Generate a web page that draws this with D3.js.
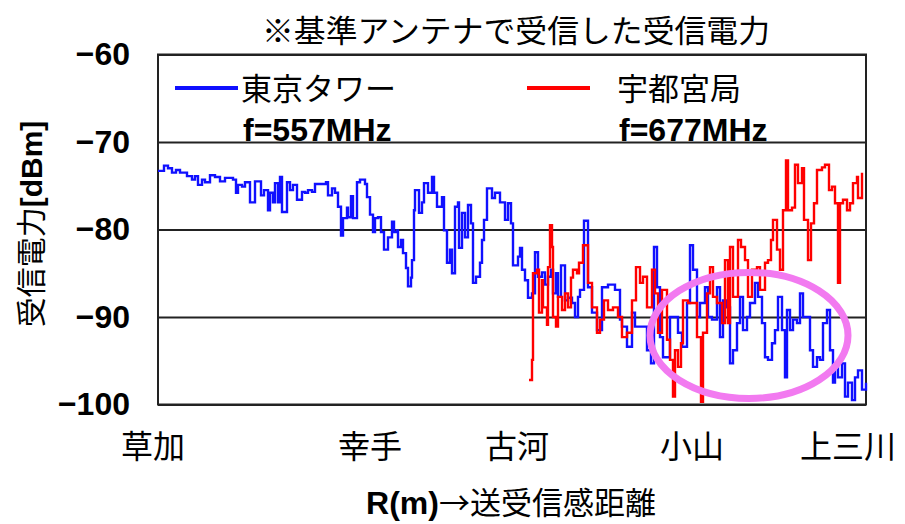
<!DOCTYPE html>
<html>
<head>
<meta charset="utf-8">
<script src="https://cdn.jsdelivr.net/npm/d3@7"></script>
<style>
  html, body { margin: 0; padding: 0; background: #fff; }
  svg { display: block; }
</style>
</head>
<body>
<svg id="chart" width="905" height="524"></svg>
<script>
// Received power measured with the reference antenna along the route.
// Each pair: [R (distance index along the route), received power in dBm]
const tokyoTower = [
  [0,-73.3],[6,-72.7],[10,-73.0],[14,-73.5],[18,-73.2],[22,-73.5],[29,-73.9],[34,-74.3],[37,-73.9],[40,-74.9],
  [44,-74.3],[47,-74.6],[52,-73.8],[57,-74.0],[62,-74.5],[67,-74.1],[75,-74.3],[78,-75.8],[80,-74.9],[84,-75.1],
  [87,-74.6],[92,-76.9],[95,-76.9],[97,-74.5],[100,-74.5],[103,-76.1],[106,-75.5],[110,-77.8],[112,-75.8],[115,-76.9],
  [117,-74.7],[120,-76.9],[122,-74.0],[124,-78.0],[129,-74.6],[132,-75.5],[135,-74.9],[139,-76.6],[144,-75.7],[147,-75.8],
  [150,-75.5],[154,-75.7],[157,-74.8],[165,-74.8],[168,-74.6],[170,-76.1],[174,-75.3],[177,-75.8],[180,-77.4],[183,-80.7],
  [185,-78.7],[189,-77.5],[190,-78.6],[193,-76.2],[195,-78.7],[199,-74.6],[202,-74.3],[207,-74.8],[209,-76.3],[212,-78.3],
  [215,-80.3],[217,-78.7],[220,-78.6],[223,-80.3],[226,-82.3],[230,-80.9],[234,-79.1],[236,-80.3],[239,-80.1],[240,-82.0],
  [243,-81.2],[245,-82.7],[248,-84.4],[250,-86.5],[253,-85.5],[254,-83.5],[256,-77.8],[257,-75.5],[261,-78.1],[264,-76.9],
  [266,-74.7],[270,-75.8],[274,-74.0],[276,-75.8],[279,-77.4],[284,-76.3],[286,-80.1],[289,-83.8],[292,-82.3],[294,-85.0],
  [297,-77.4],[300,-76.9],[301,-82.1],[304,-78.1],[307,-80.9],[310,-77.2],[313,-79.3],[315,-86.1],[318,-85.4],[322,-83.8],
  [324,-81.2],[326,-78.9],[329,-75.3],[332,-75.3],[334,-76.4],[337,-75.8],[342,-76.9],[347,-78.9],[350,-77.0],[353,-79.3],
  [355,-84.1],[360,-83.1],[362,-82.1],[364,-84.6],[367,-85.8],[370,-87.8],[374,-87.3],[377,-82.6],[380,-85.4],[384,-84.9],
  [387,-86.3],[390,-85.4],[393,-84.6],[395,-87.3],[398,-85.0],[400,-87.7],[403,-84.1],[407,-88.1],[410,-87.8],[414,-88.4],
  [417,-90.0],[420,-87.7],[422,-86.9],[426,-79.0],[430,-86.6],[434,-89.5],[439,-91.5],[444,-86.6],[450,-86.3],[457,-86.9],
  [462,-90.3],[464,-91.1],[469,-93.4],[474,-89.5],[477,-91.1],[484,-91.1],[489,-93.8],[493,-95.3],[496,-82.0],[499,-86.6],
  [502,-92.3],[505,-94.6],[512,-90.0],[517,-90.0],[520,-91.8],[524,-93.4],[529,-88.4],[532,-81.8],[535,-84.6],[539,-90.0],
  [542,-88.4],[547,-86.6],[550,-90.0],[554,-90.3],[559,-86.6],[562,-92.3],[565,-88.1],[569,-88.9],[572,-95.3],[575,-93.8],
  [579,-90.7],[582,-87.7],[585,-91.5],[589,-90.0],[592,-88.4],[597,-86.1],[600,-87.7],[604,-90.7],[607,-94.6],[610,-94.9],
  [614,-93.0],[617,-91.5],[620,-87.7],[624,-91.5],[627,-96.9],[629,-89.2],[632,-91.5],[635,-90.3],[639,-90.7],[642,-87.3],
  [645,-90.0],[649,-90.0],[652,-93.8],[655,-95.7],[659,-94.6],[662,-94.9],[665,-90.7],[669,-89.2],[672,-93.8],[675,-97.5],
  [677,-95.3],[680,-96.9],[684,-95.3],[687,-99.1],[690,-97.5],[694,-99.5],[697,-96.9],[700,-96.1],[704,-98.3],[708,-97.5]
];

const utsunomiya = [
  [371,-97.2],[374,-94.9],[375,-85.0],[379,-84.6],[381,-89.5],[384,-85.8],[385,-88.9],[389,-90.9],[390,-84.3],[392,-79.5],
  [394,-82.0],[395,-90.0],[398,-91.1],[400,-87.7],[404,-89.2],[407,-87.3],[410,-88.9],[413,-85.5],[415,-84.6],[419,-85.0],
  [421,-83.8],[425,-81.8],[430,-86.1],[434,-88.9],[439,-91.8],[442,-90.3],[446,-88.1],[450,-89.2],[455,-88.9],[460,-90.0],
  [464,-92.3],[469,-91.8],[474,-88.1],[478,-84.3],[482,-86.1],[485,-85.4],[489,-88.9],[494,-84.6],[497,-87.3],[500,-91.8],
  [504,-86.9],[509,-92.6],[512,-94.9],[515,-99.1],[517,-93.8],[520,-95.7],[523,-93.0],[525,-88.1],[530,-88.4],[535,-88.4],
  [539,-92.3],[543,-99.7],[545,-91.8],[549,-87.3],[552,-84.3],[555,-87.7],[559,-88.4],[564,-90.7],[567,-83.5],[570,-90.7],
  [572,-82.0],[575,-87.7],[580,-81.2],[583,-82.0],[587,-83.5],[590,-87.7],[594,-84.6],[599,-84.3],[602,-86.9],[607,-83.8],
  [610,-83.5],[613,-81.2],[615,-78.9],[619,-82.3],[622,-84.6],[625,-77.8],[628,-72.1],[630,-77.8],[634,-77.5],[637,-72.6],
  [640,-74.7],[644,-73.0],[646,-78.9],[650,-83.5],[653,-79.3],[656,-77.0],[659,-73.2],[664,-72.9],[667,-72.6],[671,-75.5],
  [674,-75.1],[677,-77.0],[680,-86.1],[682,-77.0],[685,-76.6],[689,-77.8],[692,-77.0],[695,-74.7],[699,-74.0],[700,-76.4],
  [704,-73.5]
];

// Place names shown under the axis and where they sit along R
const stationNames = ["草加", "幸手", "古河", "小山", "上三川"];
const stationR = [-5, 212, 359, 534, 690];

// Power axis ticks (dBm)
const powerTicks = [-60, -70, -80, -90, -100];

// Region of interest circled on the chart: R range and power range
const focusR = [492, 690];
const focusPower = [-84.9, -99.3];

// Legend entries
const legendNames = ["東京タワー", "宇都宮局"];
const legendFreqs = ["f=557MHz", "f=677MHz"];
const seriesColors = ["#1010ff", "#ff0000"];

const svg = d3.select("#chart");
const plot = { left: 158, right: 866, top: 54.5, bottom: 404.5 };

const x = d3.scaleLinear().domain([0, 708]).range([plot.left, plot.right]);
const y = d3.scaleLinear().domain([-100, -60]).range([plot.bottom, plot.top]);

const latin = "'Liberation Sans', Arial, sans-serif";
const cjk = "'Noto Sans CJK JP', 'Noto Sans', sans-serif";

// Title
svg.append("text")
  .attr("x", 516).attr("y", 42)
  .attr("text-anchor", "middle")
  .attr("font-family", cjk).attr("font-size", 31)
  .attr("textLength", 508).attr("lengthAdjust", "spacingAndGlyphs")
  .attr("fill", "#000")
  .text("※基準アンテナで受信した受信電力");

// Y axis with full-width grid lines
const yAxis = svg.append("g")
  .attr("transform", `translate(${plot.left},0)`)
  .call(d3.axisLeft(y)
    .tickValues(powerTicks)
    .tickSize(-(plot.right - plot.left))
    .tickPadding(28)
    .tickFormat(d3.format("d")));
yAxis.select(".domain").remove();
yAxis.selectAll(".tick line").attr("stroke", "#222").attr("stroke-width", 2);
yAxis.selectAll(".tick text")
  .attr("font-family", latin).attr("font-weight", "bold")
  .attr("font-size", 32).attr("fill", "#000");

// Plot frame
svg.append("rect")
  .attr("x", plot.left).attr("y", plot.top)
  .attr("width", plot.right - plot.left).attr("height", plot.bottom - plot.top)
  .attr("fill", "none").attr("stroke", "#222").attr("stroke-width", 2);

// Series lines
const line = d3.line()
  .x(d => x(d[0]))
  .y(d => y(d[1]))
  .curve(d3.curveStepAfter);

[tokyoTower, utsunomiya].forEach((series, i) => {
  svg.append("path")
    .datum(series)
    .attr("d", line)
    .attr("fill", "none")
    .attr("stroke", seriesColors[i])
    .attr("stroke-width", 2.4)
    .attr("stroke-linejoin", "miter");
});

// Highlight ellipse around the weak-signal stretch
svg.append("ellipse")
  .attr("cx", x((focusR[0] + focusR[1]) / 2))
  .attr("cy", y((focusPower[0] + focusPower[1]) / 2))
  .attr("rx", (x(focusR[1]) - x(focusR[0])) / 2)
  .attr("ry", (y(focusPower[1]) - y(focusPower[0])) / 2)
  .attr("fill", "none")
  .attr("stroke", "#f27af0")
  .attr("stroke-width", 7);

// Legend
const legendX = [175, 527];
const legendTextX = [241, 617];
legendNames.forEach((name, i) => {
  svg.append("line")
    .attr("x1", legendX[i]).attr("x2", legendX[i] + 63)
    .attr("y1", 88).attr("y2", 88)
    .attr("stroke", seriesColors[i]).attr("stroke-width", 4);
  svg.append("text")
    .attr("x", legendTextX[i]).attr("y", 100)
    .attr("font-family", cjk).attr("font-size", 31)
    .attr("fill", "#000")
    .text(name);
  svg.append("text")
    .attr("x", legendTextX[i] + 2).attr("y", 141)
    .attr("font-family", latin).attr("font-weight", "bold")
    .attr("font-size", 32).attr("fill", "#000")
    .text(legendFreqs[i]);
});

// Station labels under the plot
svg.append("g")
  .selectAll("text")
  .data(stationNames)
  .join("text")
  .attr("x", (d, i) => x(stationR[i]))
  .attr("y", 458)
  .attr("text-anchor", "middle")
  .attr("font-family", cjk).attr("font-size", 32)
  .attr("fill", "#000")
  .text(d => d);

// X axis title
const xt = svg.append("text")
  .attr("x", 511).attr("y", 514)
  .attr("text-anchor", "middle")
  .attr("fill", "#000");
xt.append("tspan").attr("font-family", latin).attr("font-weight", "bold").attr("font-size", 32).text("R(m)");
xt.append("tspan").attr("font-family", cjk).attr("font-size", 31).text("→送受信感距離");

// Y axis title
const yt = svg.append("text")
  .attr("transform", "translate(42,224) rotate(-90)")
  .attr("text-anchor", "middle")
  .attr("fill", "#000");
yt.append("tspan").attr("font-family", cjk).attr("font-size", 30).text("受信電力");
yt.append("tspan").attr("font-family", latin).attr("font-weight", "bold").attr("font-size", 30).text("[dBm]");
</script>
</body>
</html>
